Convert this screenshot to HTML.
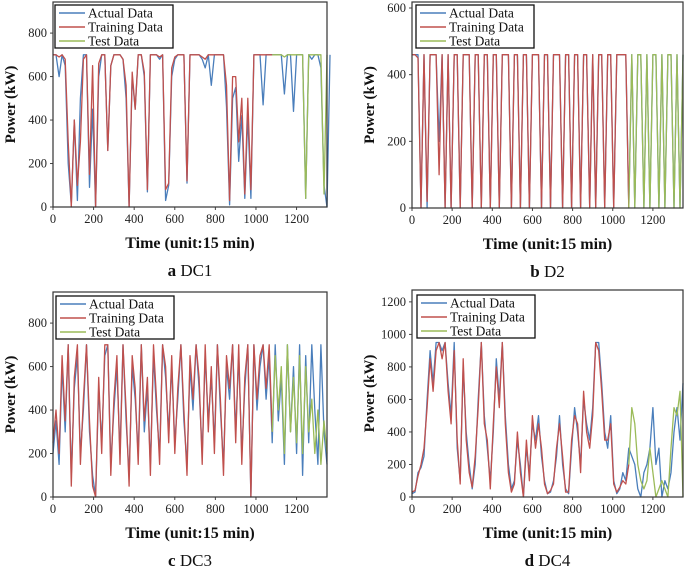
<!DOCTYPE html>
<html><head><meta charset="utf-8"><style>
html,body{margin:0;padding:0;background:#fff;}
svg{display:block;font-family:"Liberation Serif",serif;}
</style></head><body>
<svg id="chart" width="685" height="570" viewBox="0 0 685 570" xmlns="http://www.w3.org/2000/svg"></svg>
<script>
// x positions: index * 15 (time units)
const xTicks=[0,200,400,600,800,1000,1200];
const dc1Actual=[700,700,600,700,650,200,10,400,30,500,700,700,90,450,0,600,700,700,260,650,700,700,700,680,500,0,600,450,700,700,600,70,700,700,700,680,700,30,100,600,680,700,700,700,110,700,700,700,700,680,640,700,560,700,700,700,700,460,10,500,550,210,420,40,420,40,700,700,700,470,700,700,700,700,700,700,520,700,700,440,700,700,700,40,700,680,700,700,640,100,0,700];
const dc1Train=[700,700,690,700,680,300,0,400,100,300,680,700,150,650,0,660,700,700,260,650,700,700,700,680,560,0,620,450,700,700,620,80,700,700,700,690,700,80,110,640,690,700,700,700,120,700,700,700,700,690,680,700,700,700,700,700,700,560,30,600,600,300,500,60,500,80,700,700,700,700,700,700,700];
const dc1Test=[700,700,700,700,690,700,700,700,700,700,700,40,700,700,700,700,700,60,700];
const dc2Actual=[460,460,460,0,460,0,460,460,460,200,460,0,460,0,460,460,0,460,460,460,0,460,460,0,460,460,0,460,460,0,460,460,460,0,460,460,0,460,460,0,460,460,460,0,460,460,0,460,460,460,0,460,460,0,460,460,0,460,460,0,460,0,460,460,0,460,460,0,460,460,460,460,0,460,0,460,460,0,460,0,460,460,0,460,0,460,460,0,460,0,460];
const dc2Train=[460,460,450,0,460,20,460,460,460,100,460,0,460,0,460,460,0,460,460,460,0,460,460,0,460,460,0,460,460,0,460,460,460,0,460,460,0,460,460,0,460,460,460,0,460,460,0,460,460,460,0,460,460,0,460,460,0,460,460,0,460,0,460,460,0,460,460,0,460,460,460,460,0];
const dc2Test=[0,460,0,460,460,0,460,0,460,460,0,460,0,460,460,0,460,0,460];
const dc3Actual=[200,350,150,600,300,700,100,500,650,200,400,700,300,100,0,500,250,650,700,150,400,600,200,700,350,100,600,450,200,700,300,500,150,650,400,200,700,550,300,600,250,450,700,350,150,600,400,700,500,200,650,350,550,250,700,400,150,600,450,700,300,650,200,500,700,0,700,400,600,700,450,650,250,700,350,550,150,700,300,600,200,700,100,650,250,700,400,150,700,300,150];
const dc3Train=[250,400,200,650,350,700,50,550,700,150,450,700,350,50,0,550,200,700,700,100,450,650,150,700,400,50,650,500,150,700,350,550,100,700,450,150,700,600,250,650,200,500,700,400,100,650,450,700,550,150,700,300,600,200,700,450,100,650,500,700,250,700,150,550,700,0,700,450,650,700,500,700,300];
const dc3Test=[300,650,400,600,200,700,300,550,250,650,200,600,300,450,200,400,150,350,200];
const dc4Actual=[20,30,150,180,250,600,900,700,950,950,900,950,700,500,950,300,100,800,400,200,50,200,600,950,500,300,100,400,850,600,950,500,200,50,100,350,200,0,300,150,450,350,500,250,100,20,30,100,250,500,200,50,20,300,550,400,200,600,450,350,550,950,950,700,400,300,500,100,20,50,150,100,300,250,200,50,0,150,200,300,550,200,300,0,100,50,150,400,550,350,700];
const dc4Train=[30,40,130,200,300,550,850,650,900,950,850,950,650,450,900,350,80,850,350,150,60,250,550,950,450,350,50,450,800,550,950,450,150,30,80,400,150,0,350,100,500,300,450,300,80,20,40,80,300,450,250,30,30,350,500,450,150,650,400,300,500,950,900,650,350,350,450,80,30,60,100,80,200];
const dc4Test=[200,550,450,200,100,50,100,300,150,0,50,100,50,0,300,550,500,650,0];

const svg=document.getElementById('chart');
const NS='http://www.w3.org/2000/svg';
function mk(tag,attrs,parent){const e=document.createElementNS(NS,tag);for(const k in attrs)e.setAttribute(k,attrs[k]);(parent||svg).appendChild(e);return e;}
const COLORS={a:'#4a7ebb',t:'#c0504d',s:'#9bbb59'};

function panel(cfg){
  const g=mk('g',{});
  
  
  const sx=v=>cfg.x0+(v/1350)*(cfg.x1-cfg.x0);
  const sy=v=>cfg.yb-(v/cfg.ymax)*(cfg.yb-cfg.yt);
  // y ticks
  cfg.yTicks.forEach(t=>{
    const tx=mk('text',{x:cfg.x0-6,y:sy(t)+4,'text-anchor':'end','font-size':'12.5',fill:'#222'},g);
    tx.textContent=t;
    
    
    mk('line',{x1:cfg.x0-3,x2:cfg.x0,y1:sy(t),y2:sy(t),stroke:'#444','stroke-width':1},g);
  });
  xTicks.forEach(t=>{
    const tx=mk('text',{x:sx(t),y:cfg.yb+16,'text-anchor':'middle','font-size':'12.5',fill:'#222'},g);
    tx.textContent=t;
    
    
    mk('line',{x1:sx(t),x2:sx(t),y1:cfg.yb,y2:cfg.yb+3,stroke:'#444','stroke-width':1},g);
  });
  function series(arr,off,color,nm){
    const pts=arr.map((v,i)=>sx((i+off)*15).toFixed(1)+','+sy(v).toFixed(1)).join(' ');
    const p=mk('polyline',{points:pts,fill:'none',stroke:color,'stroke-width':1.3,'stroke-linejoin':'round'},g);
    
    
  }
  series(cfg.actual,0,COLORS.a,'actual-data-line');
  series(cfg.train,0,COLORS.t,'training-data-line');
  series(cfg.test,72,COLORS.s,'test-data-line');
  const box=mk('rect',{x:cfg.x0,y:cfg.yt,width:cfg.x1-cfg.x0,height:cfg.yb-cfg.yt,fill:'none',stroke:'#333','stroke-width':1.2},g);
  
  
  // legend
  const L=mk('g',{},g);
  
  
  mk('rect',{x:cfg.lx,y:cfg.ly,width:118,height:43,fill:'#fff',stroke:'#111','stroke-width':1.3},L);
  [['Actual Data',COLORS.a],['Training Data',COLORS.t],['Test Data',COLORS.s]].forEach((e,i)=>{
    const yy=cfg.ly+8+i*14;
    mk('line',{x1:cfg.lx+4,x2:cfg.lx+30,y1:yy,y2:yy,stroke:e[1],'stroke-width':1.5},L);
    const t=mk('text',{x:cfg.lx+33,y:yy+4.5,'font-size':'13.5',fill:'#111'},L);
    t.textContent=e[0];
    
    
  });
  const yl=mk('text',{x:0,y:0,transform:`translate(${cfg.x0-38},${(cfg.yt+cfg.yb)/2}) rotate(-90)`,'text-anchor':'middle','font-size':'15','font-weight':'bold',fill:'#111'},g);
  yl.textContent='Power (kW)';
  
  
  const xl=mk('text',{x:(cfg.x0+cfg.x1)/2,y:cfg.yb+41,'text-anchor':'middle','font-size':'16','font-weight':'bold',fill:'#111'},g);
  xl.textContent='Time (unit:15 min)';
  
  
  const cap=mk('text',{x:(cfg.x0+cfg.x1)/2,y:cfg.yb+69,'text-anchor':'middle','font-size':'17',fill:'#111'},g);
  const b=mk('tspan',{'font-weight':'bold'},cap);b.textContent=cfg.letter+' ';
  const r=mk('tspan',{},cap);r.textContent=cfg.title;
  
  
}
panel({name:'panel-dc1',x0:53,x1:327,yt:2,yb:207,ymax:943,yTicks:[0,200,400,600,800],actual:dc1Actual,train:dc1Train,test:dc1Test,lx:55,ly:5,letter:'a',title:'DC1'});
panel({name:'panel-d2',x0:412,x1:683,yt:2,yb:208,ymax:618,yTicks:[0,200,400,600],actual:dc2Actual,train:dc2Train,test:dc2Test,lx:416,ly:5,letter:'b',title:'D2'});
panel({name:'panel-dc3',x0:53,x1:327,yt:292,yb:497,ymax:943,yTicks:[0,200,400,600,800],actual:dc3Actual,train:dc3Train,test:dc3Test,lx:56,ly:296,letter:'c',title:'DC3'});
panel({name:'panel-dc4',x0:412,x1:683,yt:290,yb:497,ymax:1273,yTicks:[0,200,400,600,800,1000,1200],actual:dc4Actual,train:dc4Train,test:dc4Test,lx:417,ly:295,letter:'d',title:'DC4'});
</script>
</body></html>
